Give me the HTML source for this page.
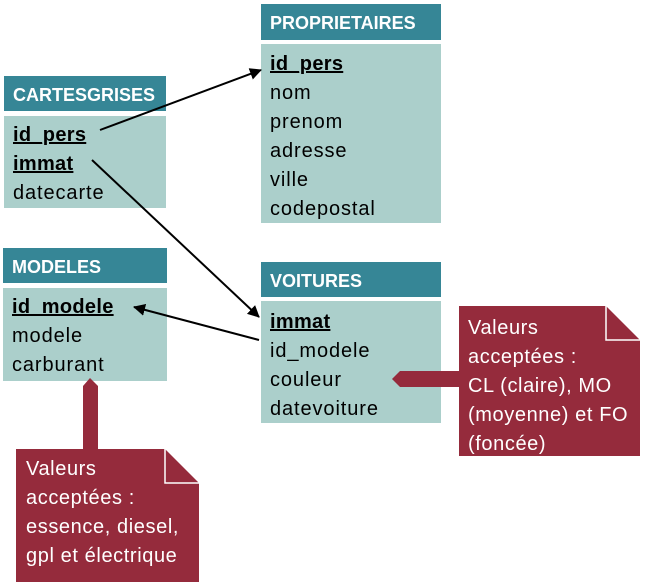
<!DOCTYPE html>
<html><head><meta charset="utf-8"><style>
body{margin:0;background:#fff;}
svg{display:block;font-family:"Liberation Sans",sans-serif;}
.h{fill:#fff;font-weight:bold;font-size:18px;}
.t{fill:#000;font-size:20px;letter-spacing:0.9px;}
.k{font-weight:bold;text-decoration:underline;letter-spacing:0.3px;}
.n{fill:#fff;font-size:20px;letter-spacing:0.6px;}
</style></head><body>
<svg width="647" height="588" viewBox="0 0 647 588">
<defs><marker id="ah" markerWidth="12" markerHeight="12" refX="11" refY="6" orient="auto" markerUnits="userSpaceOnUse"><path d="M0,0 L12,6 L0,12 z" fill="#000"/></marker></defs>

<g>
<rect x="261" y="4" width="180" height="36" fill="#368696"/>
<text class="h" x="270" y="29">PROPRIETAIRES</text>
<rect x="261" y="44" width="180" height="179" fill="#abcfcb"/>
<text class="t k" x="270" y="70">id_pers</text>
<text class="t" x="270" y="99">nom</text>
<text class="t" x="270" y="128">prenom</text>
<text class="t" x="270" y="157">adresse</text>
<text class="t" x="270" y="186">ville</text>
<text class="t" x="270" y="215">codepostal</text>
</g>

<g>
<rect x="4" y="76" width="162" height="35" fill="#368696"/>
<text class="h" x="13" y="101">CARTESGRISES</text>
<rect x="4" y="116" width="162" height="92" fill="#abcfcb"/>
<text class="t k" x="13" y="141">id_pers</text>
<text class="t k" x="13" y="170">immat</text>
<text class="t" x="13" y="199">datecarte</text>
</g>

<g>
<rect x="3" y="248" width="164" height="35" fill="#368696"/>
<text class="h" x="12" y="273">MODELES</text>
<rect x="3" y="288" width="164" height="93" fill="#abcfcb"/>
<text class="t k" x="12" y="313">id_modele</text>
<text class="t" x="12" y="342">modele</text>
<text class="t" x="12" y="371">carburant</text>
</g>

<g>
<rect x="261" y="262" width="180" height="35" fill="#368696"/>
<text class="h" x="270" y="287">VOITURES</text>
<rect x="261" y="301" width="180" height="122" fill="#abcfcb"/>
<text class="t k" x="270" y="328">immat</text>
<text class="t" x="270" y="357">id_modele</text>
<text class="t" x="270" y="386">couleur</text>
<text class="t" x="270" y="415">datevoiture</text>
</g>

<line x1="100" y1="130" x2="261" y2="70" stroke="#000" stroke-width="2" marker-end="url(#ah)"/>
<line x1="92" y1="160" x2="259" y2="317" stroke="#000" stroke-width="2" marker-end="url(#ah)"/>
<line x1="259" y1="340" x2="134" y2="307" stroke="#000" stroke-width="2" marker-end="url(#ah)"/>

<g>
<path d="M459,306 L606,306 L640,340 L640,456 L459,456 z" fill="#952b3c"/>
<path d="M606,306 L606,340 L640,340" fill="none" stroke="#fff" stroke-width="1.5"/>
<path d="M460,371 L400,371 L392,379 L400,387 L460,387 z" fill="#952b3c"/>
<text class="n" x="468" y="334">Valeurs</text>
<text class="n" x="468" y="363">acceptées :</text>
<text class="n" x="468" y="392">CL (claire), MO</text>
<text class="n" x="468" y="421">(moyenne) et FO</text>
<text class="n" x="468" y="450">(foncée)</text>
</g>

<g>
<path d="M83,449 L83,386 L90,378 L98,386 L98,449 z" fill="#952b3c"/>
<path d="M16,449 L165,449 L199,483 L199,582 L16,582 z" fill="#952b3c"/>
<path d="M165,449 L165,483 L199,483" fill="none" stroke="#fff" stroke-width="1.5"/>
<text class="n" x="26" y="475">Valeurs</text>
<text class="n" x="26" y="504">acceptées :</text>
<text class="n" x="26" y="533">essence, diesel,</text>
<text class="n" x="26" y="562">gpl et électrique</text>
</g>
</svg>
</body></html>
